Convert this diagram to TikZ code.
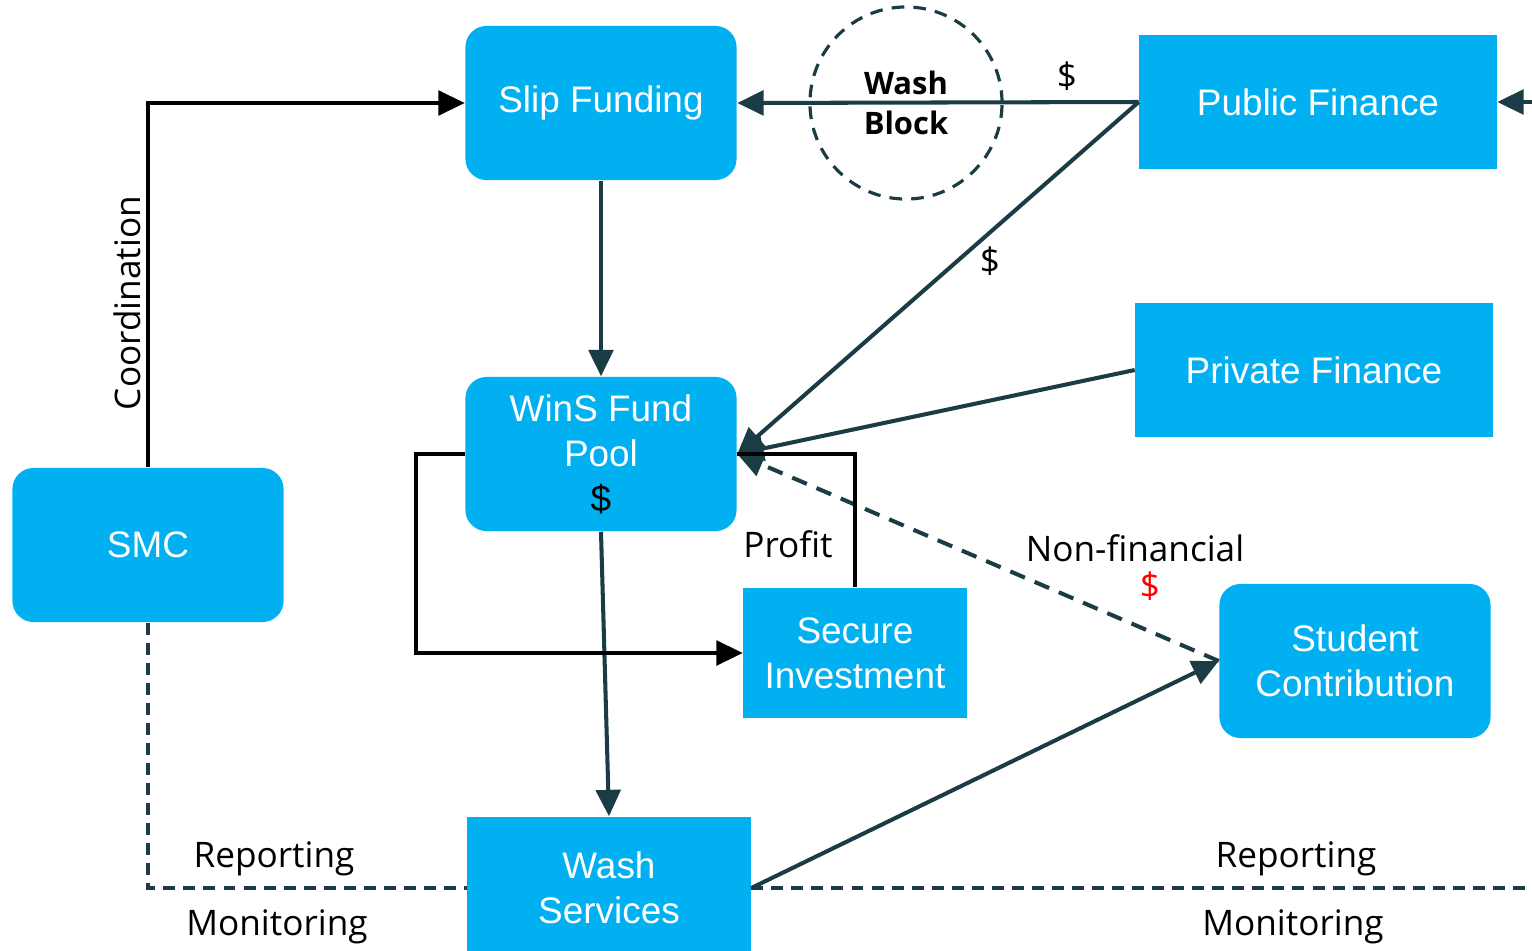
\documentclass[tikz,border=0pt]{standalone}
\usepackage{fontspec}
\setmainfont{Liberation Sans}
\newfontfamily\labfont{Open Sans}
\usetikzlibrary{arrows.meta}
\definecolor{boxblue}{HTML}{00B0F0}
\definecolor{darkline}{HTML}{1B3C44}
\begin{document}
\begin{tikzpicture}[x=0.01cm,y=-0.01cm,>={Triangle[length=7.5pt,width=7pt]},
	rbox/.style={fill=boxblue,rounded corners=6pt,minimum width=2.71cm,minimum height=1.54cm,text=white,align=center,font=\fontsize{10.5}{12.8}\selectfont},
	sbox/.style={fill=boxblue,text=white,align=center,font=\fontsize{10.5}{12.8}\selectfont},
	flow/.style={draw=darkline,line width=1.15pt},
	blk/.style={draw=black,line width=1.05pt},
	report/.style={draw=darkline,line width=1.1pt,dash pattern=on 3.4pt off 2.3pt},
	lab/.style={font=\labfont\fontsize{10}{12}\selectfont}]
	\useasboundingbox (0,0) rectangle (1532,951);
	% boxes
	\node[rbox] (slip) at (601,103) {Slip Funding};
	\node[rbox] (pool) at (601,454) {WinS Fund\\Pool\\\textcolor{black}{\$}};
	\node[rbox] (smc) at (148,545) {SMC};
	\node[rbox] (student) at (1355,661) {Student\\Contribution};
	\node[sbox,minimum width=3.57cm,minimum height=1.34cm] (pubfin) at (1318,102) {Public Finance};
	\node[sbox,minimum width=3.57cm,minimum height=1.34cm] (privfin) at (1314,370) {Private Finance};
	\node[sbox,minimum width=2.23cm,minimum height=1.30cm] (secinv) at (855,653) {Secure\\Investment};
	\node[sbox,minimum width=2.83cm,minimum height=1.42cm] (wash) at (609,888) {Wash\\Services};
	\node[circle,draw=darkline,line width=0.9pt,dash pattern=on 3.6pt off 2.6pt,minimum size=1.92cm,align=center,
		font=\labfont\bfseries\fontsize{8.8}{11.2}\selectfont] (block) at (906,103) {Wash\\Block};
	\coordinate (feed) at (1532,102);
	\coordinate (rim) at (1532,888);
	% arrows
	\draw[blk,->] (smc.north) |- (slip.west);
	\draw[flow,->] (slip.south) -- (pool.north);
	\draw[flow,->] (pubfin.west) -- (slip.east);
	\draw[flow,->] (pubfin.west) -- (pool.east);
	\draw[flow,->] (privfin.west) -- (pool.east);
	\draw[flow,dash pattern=on 4.5pt off 3pt,->] (student.west) -- (pool.east);
	\draw[flow,->] (pool.south) -- (wash.north);
	\draw[flow,->] (wash.east) -- (student.west);
	\draw[blk,->] (pool.west) -- ++(-49,0) |- (secinv.west);
	\draw[blk] (secinv.north) |- (pool.east);
	\draw[report] (smc.south) |- (wash.west);
	\draw[report] (wash.east) -- (rim);
	\draw[flow,->] (feed) -- (pubfin.east);
	% labels
	\node[lab,rotate=90] (coord) at (127,303) {Coordination};
	\node[lab] (pubcash) at (1067,76) {\$};
	\node[lab] (poolcash) at (990,261) {\$};
	\node[lab] (profit) at (788,544) {Profit};
	\node[lab] (nonfin) at (1135,548) {Non-financial};
	\node[lab,text=red] (redcash) at (1150,586) {\$};
	\node[lab] (repl) at (274,859) {Reporting};
	\node[lab] (monl) at (277,927) {Monitoring};
	\node[lab] (repr) at (1296,859) {Reporting};
	\node[lab] (monr) at (1293,927) {Monitoring};
\end{tikzpicture}
\end{document}
